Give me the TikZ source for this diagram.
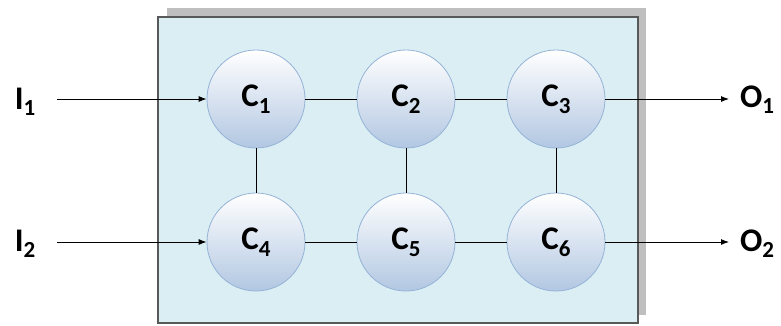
\documentclass[tikz,border=0pt]{standalone}
\usepackage{fontspec}
\setmainfont{Carlito}
\usetikzlibrary{arrows.meta}
\definecolor{boxfill}{RGB}{218,238,243}
\definecolor{boxline}{RGB}{89,89,89}
\definecolor{boxshadow}{RGB}{191,191,191}
\definecolor{cellline}{RGB}{149,179,215}
\definecolor{cellbottom}{RGB}{178,199,226}
\newcommand{\lbl}[2]{\textbf{#1\raisebox{-0.2em}{\fontsize{23}{23}\selectfont #2}}}

\begin{document}
\begin{tikzpicture}[x=1pt, y=-1pt,
        cell/.style={circle, minimum size=98pt, inner sep=0pt, draw=cellline, line width=0.8pt,
            top color=white, bottom color=cellbottom, font=\fontsize{33}{38}\selectfont},
        port/.style={anchor=base, inner sep=0pt, font=\fontsize{33}{38}\selectfont},
        wire/.style={line width=0.9pt},
        feed/.style={line width=0.9pt, -{Latex[length=8pt, width=6pt]}}]
        \useasboundingbox (0, 0) rectangle (781, 325);
        \fill[boxshadow] (167, 8) rectangle (646, 315);
        \draw[boxline, fill=boxfill, line width=1.2pt] (158, 17) rectangle (638, 323);

        \foreach \x[count=\i] in {256, 406, 556} {
            \pgfmathtruncatemacro{\j}{\i+3}
            \node[cell] (c\i) at (\x, 99) {\lbl{C}{\i}};
            \node[cell] (c\j) at (\x, 242) {\lbl{C}{\j}};
            \draw[wire] (c\i) -- (c\j);
        }
        \foreach \a/\b in {1/2, 2/3, 4/5, 5/6} {
            \draw[wire] (c\a) -- (c\b);
        }

        \coordinate (in1) at (57, 99);
        \coordinate (in2) at (57, 242);
        \coordinate (out1) at (729, 99);
        \coordinate (out2) at (729, 242);
        \draw[feed] (in1) -- (c1);
        \draw[feed] (in2) -- (c4);
        \draw[feed] (c3) -- (out1);
        \draw[feed] (c6) -- (out2);

        \node[port] (i1) at (25, 109) {\lbl{I}{1}};
        \node[port] (i2) at (25, 251) {\lbl{I}{2}};
        \node[port] (o1) at (757, 107) {\lbl{O}{1}};
        \node[port] (o2) at (757, 251) {\lbl{O}{2}};
\end{tikzpicture}
\end{document}
